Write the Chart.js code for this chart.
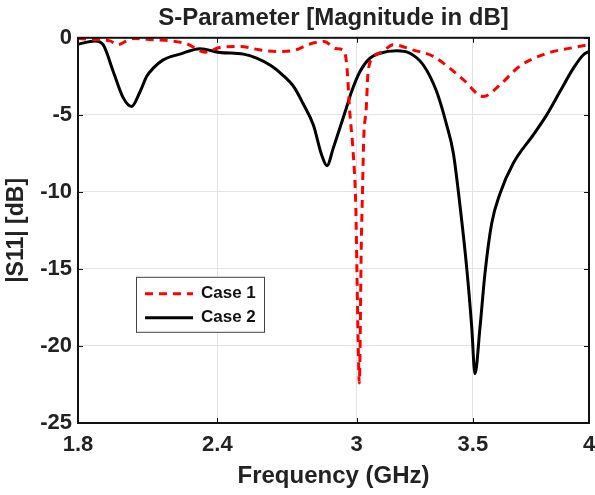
<!DOCTYPE html>
<html>
<head>
<meta charset="utf-8">
<script src="https://cdn.jsdelivr.net/npm/chart.js@4.4.1/dist/chart.umd.min.js"></script>
<style>
  html, body { margin: 0; padding: 0; background: #fff; }
  #wrap { width: 595px; height: 495px; }
</style>
</head>
<body>
<div id="wrap"><canvas id="s11Chart" width="595" height="495"></canvas></div>
<script>
// values (GHz, dB)
const freqCase1 = [1.8, 1.852, 1.938, 1.972, 2.01, 2.04, 2.12, 2.2, 2.27, 2.347, 2.41, 2.5, 2.58, 2.66, 2.74, 2.79, 2.86, 2.91, 2.943, 2.957, 2.971, 2.985, 2.996, 3.001, 3.006, 3.011, 3.02, 3.025, 3.03, 3.041, 3.048, 3.069, 3.113, 3.157, 3.24, 3.33, 3.40, 3.46, 3.545, 3.617, 3.70, 3.82, 3.92, 4.0];
const s11Case1  = [-0.05, -0.1, -0.2, -0.45, -0.2, -0.05, -0.12, -0.2, -0.4, -0.93, -0.63, -0.56, -0.78, -0.89, -0.78, -0.45, -0.24, -0.7, -0.8, -1.75, -5.0, -7.5, -11, -15.3, -19.6, -22.4, -13.1, -9.9, -6.6, -4.57, -2.4, -1.32, -0.89, -0.45, -0.78, -1.21, -1.97, -2.73, -3.81, -3.05, -1.86, -1.0, -0.67, -0.45];

const freqCase2 = [1.8, 1.873, 1.908, 1.952, 1.995, 2.031, 2.067, 2.096, 2.124, 2.167, 2.239, 2.325, 2.411, 2.512, 2.569, 2.63, 2.68, 2.73, 2.77, 2.813, 2.849, 2.872, 2.899, 2.955, 2.978, 3.014, 3.057, 3.1, 3.172, 3.229, 3.286, 3.344, 3.387, 3.416, 3.445, 3.473, 3.495, 3.509, 3.531, 3.552, 3.581, 3.617, 3.674, 3.76, 3.818, 3.875, 3.933, 3.976, 4.0];
const s11Case2  = [-0.42, -0.2, -0.45, -2.2, -3.9, -4.46, -3.5, -2.5, -1.97, -1.43, -1.06, -0.71, -0.95, -1.06, -1.32, -1.8, -2.4, -3.2, -4.3, -5.65, -7.6, -8.3, -7.16, -4.57, -3.49, -2.19, -1.32, -1.0, -0.84, -1.0, -1.75, -3.49, -5.65, -7.49, -10.95, -14.85, -18.75, -21.8, -18.75, -15.3, -12.05, -10.1, -8.14, -6.3, -5.0, -3.49, -1.97, -1.1, -0.89];

const xTicks = [1.8, 2.4, 3, 3.5, 4];
const yTicks = [0, -5, -10, -15, -20, -25];
const seriesNames = ['Case 1', 'Case 2'];

const FONT = "'Liberation Sans', Arial, sans-serif";
const TXT = '#222';

function toPoints(xs, ys) {
  return xs.map((x, i) => ({ x: x, y: ys[i] }));
}

// box around the plot, inward tick marks and the legend in the lower left
const framePlugin = {
  id: 'frame',
  afterDraw(chart) {
    const ctx = chart.ctx;
    const a = chart.chartArea;
    const xs = chart.scales.x, ys = chart.scales.y;
    ctx.save();
    ctx.strokeStyle = '#111';
    ctx.lineWidth = 1;
    xTicks.forEach(v => {
      const px = Math.round(xs.getPixelForValue(v)) + 0.5;
      ctx.beginPath();
      ctx.moveTo(px, a.bottom); ctx.lineTo(px, a.bottom - 5);
      ctx.moveTo(px, a.top); ctx.lineTo(px, a.top + 5);
      ctx.stroke();
    });
    yTicks.forEach(v => {
      const py = Math.round(ys.getPixelForValue(v)) + 0.5;
      ctx.beginPath();
      ctx.moveTo(a.left, py); ctx.lineTo(a.left + 5, py);
      ctx.moveTo(a.right, py); ctx.lineTo(a.right - 5, py);
      ctx.stroke();
    });
    ctx.lineWidth = 2;
    ctx.strokeRect(a.left, a.top, a.right - a.left, a.bottom - a.top);

    // legend
    const lx = a.left + 58, ly = a.top + 239, lw = 128, lh = 55;
    ctx.fillStyle = '#fff';
    ctx.fillRect(lx, ly, lw, lh);
    ctx.lineWidth = 1;
    ctx.strokeStyle = '#444';
    ctx.strokeRect(lx + 0.5, ly + 0.5, lw, lh);
    ctx.font = 'bold 17px ' + FONT;
    ctx.textBaseline = 'middle';
    ctx.fillStyle = '#111';
    chart.data.datasets.forEach((ds, i) => {
      const yy = ly + 17 + i * 24;
      ctx.beginPath();
      ctx.strokeStyle = ds.borderColor;
      ctx.lineWidth = 3;
      ctx.setLineDash(ds.borderDash || []);
      ctx.moveTo(lx + 9, yy); ctx.lineTo(lx + 57, yy);
      ctx.stroke();
      ctx.setLineDash([]);
      ctx.fillText(ds.label, lx + 65, yy);
    });
    ctx.restore();
  }
};

new Chart(document.getElementById('s11Chart').getContext('2d'), {
  type: 'line',
  data: {
    datasets: [{
      label: seriesNames[0],
      data: toPoints(freqCase1, s11Case1),
      borderColor: '#ff0000',
      borderWidth: 3,
      borderDash: [8, 6],
      pointRadius: 0,
      cubicInterpolationMode: 'monotone',
      fill: false
    }, {
      label: seriesNames[1],
      data: toPoints(freqCase2, s11Case2),
      borderColor: '#000000',
      borderWidth: 3,
      pointRadius: 0,
      cubicInterpolationMode: 'monotone',
      fill: false
    }]
  },
  options: {
    responsive: false,
    animation: false,
    devicePixelRatio: 1,
    layout: { padding: { left: 0, right: 0, top: 0, bottom: 0 } },
    plugins: {
      legend: { display: false },
      tooltip: { enabled: false },
      title: {
        display: true,
        fullSize: false,
        text: 'S-Parameter [Magnitude in dB]',
        color: TXT,
        font: { family: FONT, size: 24, weight: 'bold' },
        padding: { top: 4, bottom: 5 }
      }
    },
    scales: {
      x: {
        type: 'linear',
        min: 1.8,
        max: 4,
        afterBuildTicks: axis => { axis.ticks = xTicks.map(v => ({ value: v })); },
        afterFit: axis => {
          axis.height = 72;
          axis.paddingRight = 6;
          axis.paddingLeft = 0;
        },
        ticks: {
          color: TXT,
          font: { family: FONT, size: 22, weight: 'bold' },
          padding: 9,
          maxRotation: 0,
          callback: v => String(v)
        },
        grid: { color: '#e3e3e3', lineWidth: 1, drawTicks: false },
        border: { display: true, color: '#111', width: 2 },
        title: {
          display: true,
          text: 'Frequency (GHz)',
          color: TXT,
          font: { family: FONT, size: 24, weight: 'bold' },
          padding: { top: 2, bottom: 4 }
        }
      },
      y: {
        min: -25,
        max: 0,
        afterBuildTicks: axis => { axis.ticks = yTicks.map(v => ({ value: v })); },
        afterFit: axis => { axis.width = 78; },
        ticks: {
          color: TXT,
          font: { family: FONT, size: 22, weight: 'bold' },
          padding: 6
        },
        grid: { color: '#e3e3e3', lineWidth: 1, drawTicks: false },
        border: { display: true, color: '#111', width: 2 },
        title: {
          display: true,
          text: '|S11| [dB]',
          color: TXT,
          font: { family: FONT, size: 23, weight: 'bold' },
          padding: { top: 3, bottom: 3 }
        }
      }
    }
  },
  plugins: [framePlugin]
});
</script>
</body>
</html>
